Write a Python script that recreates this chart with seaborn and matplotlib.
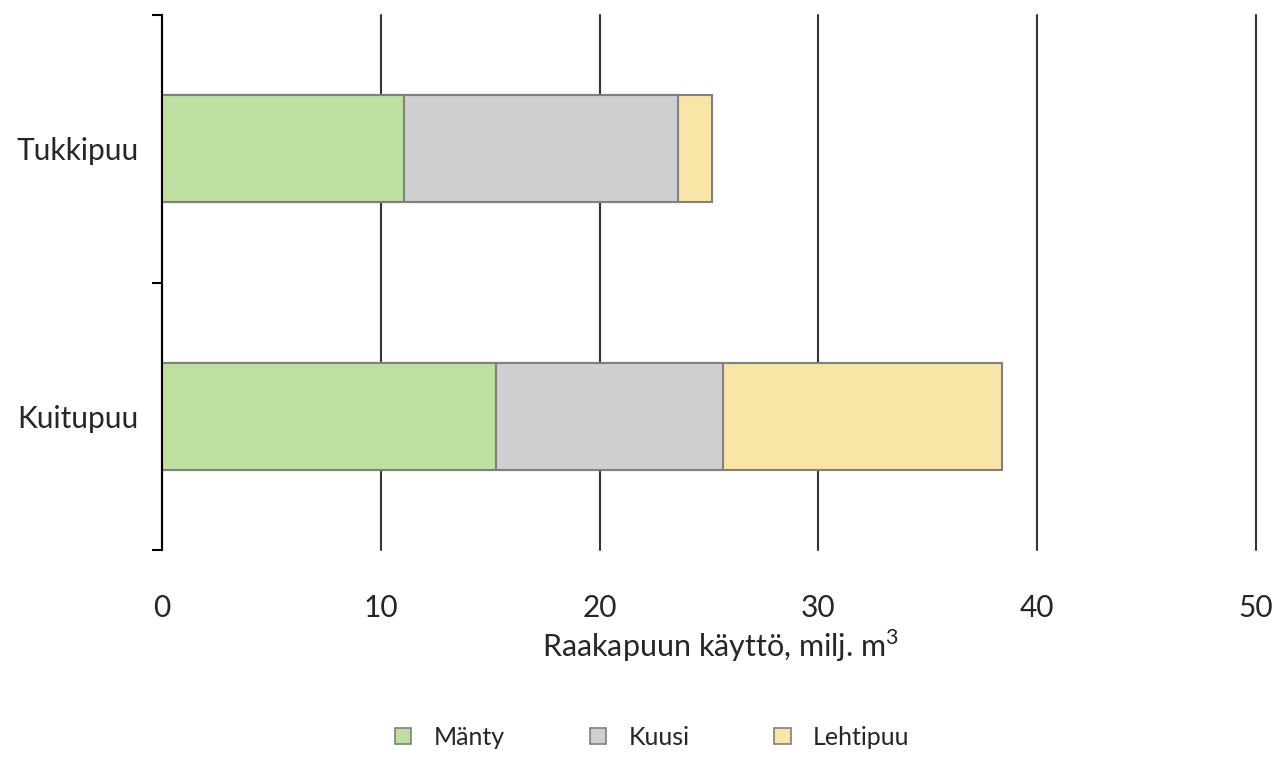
import matplotlib
matplotlib.use("Agg")
import matplotlib.pyplot as plt
import matplotlib.patches as mpatches
import pandas as pd
import seaborn as sns

categories = ["Tukkipuu", "Kuitupuu"]
manty = [11.06, 15.27]
kuusi = [12.52, 10.37]
lehtipuu = [1.56, 12.75]
series = ["Mänty", "Kuusi", "Lehtipuu"]
colors = ["#BDDFA0", "#CFCFD1", "#F9E5A5"]
xticks = [0, 10, 20, 30, 40, 50]

df = pd.DataFrame({"Luokka": categories, "Mänty": manty, "Kuusi": kuusi, "Lehtipuu": lehtipuu})
# cumulative ends for stacking
df["c1"] = df["Mänty"]
df["c2"] = df["c1"] + df["Kuusi"]
df["c3"] = df["c2"] + df["Lehtipuu"]

sns.set_style("white")
plt.rcParams["font.family"] = ["Lato", "DejaVu Sans"]

fig = plt.figure(figsize=(12.74, 7.76), dpi=100)
ax = fig.add_axes([0.1272, 0.2912, 0.8587, 0.6895])

# draw longest first so shorter segments sit on top
for col, color in zip(["c3", "c2", "c1"], reversed(colors)):
    sns.barplot(data=df, x=col, y="Luokka", orient="h", color=color, saturation=1,
                edgecolor="#808080", linewidth=1.5, width=0.4, errorbar=None, ax=ax, zorder=3)

ax.set_xlim(0, 50)
ax.set_ylim(1.5, -0.5)
ax.set_xticks(xticks)
ax.set_xticklabels([str(t) for t in xticks])
ax.xaxis.grid(True, color="#333333", linewidth=1.5)
ax.yaxis.grid(False)
ax.set_axisbelow(True)
for gl in ax.get_xgridlines():
    gl.set_clip_on(False)

for s in ["top", "right", "bottom"]:
    ax.spines[s].set_visible(False)
ax.spines["left"].set_color("black")
ax.spines["left"].set_linewidth(1.5)
ax.spines["left"].set_zorder(5)

ax.set_yticks([-0.5, 0.5, 1.5])
ax.set_yticklabels([])
ax.set_yticks([0, 1], minor=True)
ax.set_yticklabels(categories, minor=True)
ax.tick_params(axis="y", which="major", left=True, length=7, width=1.5, color="black", direction="out")
ax.tick_params(axis="y", which="minor", left=True, length=0, pad=17, labelsize=21.5)
ax.tick_params(axis="x", bottom=False, length=0, pad=32, labelsize=21.5)

ax.set_ylabel("")
ax.set_xlabel(r"Raakapuun käyttö, milj. m$^\mathregular{3}$", fontsize=22)
ax.xaxis.set_label_coords(0.51, -0.145)

handles = [mpatches.Patch(facecolor=c, edgecolor="#808080", linewidth=1.2, label=l)
           for c, l in zip(colors, series)]
fig.legend(handles=handles, loc="center", bbox_to_anchor=(0.512, 0.05), ncol=3,
           frameon=False, fontsize=18, handlelength=0.65, handleheight=0.65,
           handletextpad=0.9, columnspacing=3.4)

fig.savefig("out.png", dpi=100)
